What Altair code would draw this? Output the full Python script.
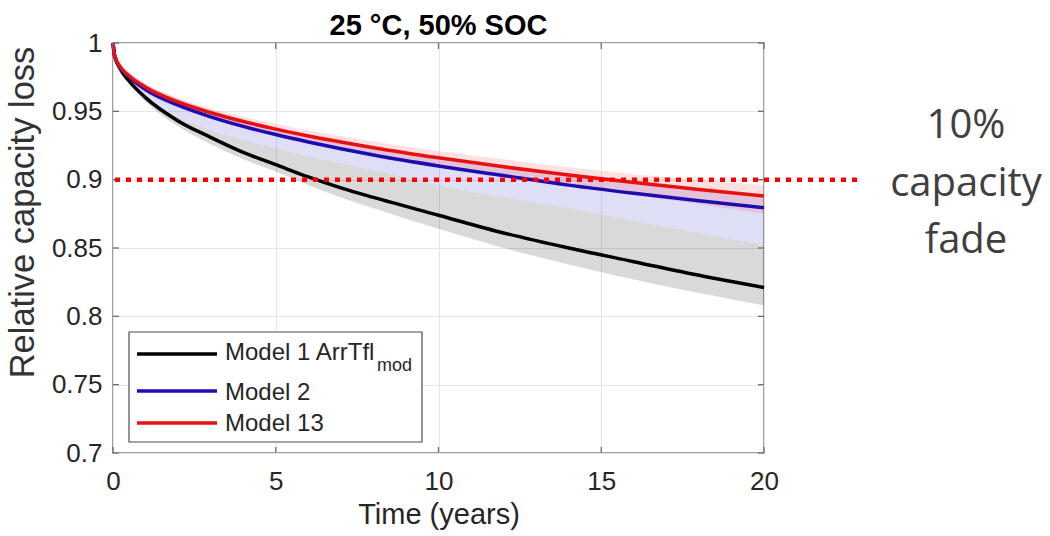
import altair as alt
import pandas as pd

# Time grid (years)
t = [0, 0.05, 0.25, 0.5, 1, 2, 3, 4, 5, 6, 7, 8, 10, 12, 14, 16, 18, 20]

# Central estimates of relative capacity for each model
model1 = [1.000, 0.991, 0.980, 0.972, 0.960, 0.943, 0.931, 0.920, 0.911, 0.902,
          0.894, 0.887, 0.874, 0.861, 0.850, 0.840, 0.830, 0.821]
model2 = [1.000, 0.9905, 0.981, 0.975, 0.966, 0.9545, 0.946, 0.939, 0.933, 0.9276,
          0.9226, 0.918, 0.910, 0.903, 0.896, 0.890, 0.8845, 0.8795]
model13 = [1.000, 0.9907, 0.9818, 0.9758, 0.9677, 0.9569, 0.949, 0.9426, 0.937, 0.932,
           0.9276, 0.9234, 0.916, 0.9094, 0.9034, 0.898, 0.8928, 0.888]

# Uncertainty bands
model1_lo = [1.000, 0.990, 0.978, 0.970, 0.957, 0.939, 0.926, 0.915, 0.906, 0.896,
             0.887, 0.879, 0.864, 0.850, 0.838, 0.827, 0.817, 0.808]
model1_hi = [1.000, 0.9912, 0.9802, 0.9722, 0.9602, 0.946, 0.936, 0.929, 0.923, 0.917,
             0.912, 0.907, 0.896, 0.887, 0.879, 0.870, 0.861, 0.852]
model2_lo = [1.000, 0.989, 0.978, 0.970, 0.960, 0.946, 0.936, 0.929, 0.923, 0.917,
             0.912, 0.907, 0.896, 0.887, 0.879, 0.870, 0.861, 0.852]
model2_hi = [1.000, 0.992, 0.984, 0.978, 0.970, 0.959, 0.951, 0.944, 0.938, 0.933,
             0.928, 0.924, 0.916, 0.909, 0.903, 0.897, 0.892, 0.887]
model13_lo = [1.000, 0.990, 0.980, 0.973, 0.964, 0.953, 0.945, 0.938, 0.932, 0.927,
              0.922, 0.918, 0.910, 0.903, 0.896, 0.889, 0.882, 0.875]
model13_hi = [1.000, 0.991, 0.983, 0.978, 0.970, 0.960, 0.952, 0.946, 0.941, 0.936,
              0.932, 0.928, 0.921, 0.915, 0.909, 0.904, 0.900, 0.896]

series_names = ["Model 1 ArrTfl", "Model 2", "Model 13"]
series_colors = ["#000000", "#1e0cb0", "#e81010"]
band_colors = ["#000000", "#3a30cc", "#ff0000"]
band_opacity = [0.15, 0.16, 0.12]

x_ticks = [0, 5, 10, 15, 20]
y_ticks = [0.7, 0.75, 0.8, 0.85, 0.9, 0.95, 1.0]
threshold = 0.9
chart_title = "25 °C, 50% SOC"
note_lines = ["10%", "capacity", "fade"]

W, H = 651, 410
FONT = "Liberation Sans"
INK = "#262626"
LW = 3.5

lines_df = pd.concat([
    pd.DataFrame({"t": t, "v": vals, "series": name})
    for name, vals in zip(series_names, [model1, model2, model13])
])
bands = [(model1_lo, model1_hi), (model2_lo, model2_hi), (model13_lo, model13_hi)]

x_scale = alt.Scale(domain=[0, 20], nice=False)
y_scale = alt.Scale(domain=[0.7, 1.0], nice=False, zero=False)

x_axis = alt.Axis(
    values=x_ticks, title="Time (years)", labelPadding=15, titlePadding=6,
    titleFontSize=29, titleFontWeight="normal", labelFlush=False)
y_axis = alt.Axis(
    values=y_ticks, format=".2~f", title="Relative capacity loss",
    labelPadding=11, titleFontSize=34.5, titleFontWeight="normal", titleColor="#333333",
    titleBaseline="middle", titleX=-90, titleY=169, titleAngle=-90, labelFlush=False)


def X(field):
    return alt.X(field, scale=x_scale, axis=x_axis)


def Y(field):
    return alt.Y(field, scale=y_scale, axis=y_axis)


layers = []

# Shaded uncertainty bands
for (lo, hi), c, op in zip(bands, band_colors, band_opacity):
    bdf = pd.DataFrame({"t": t, "lo": lo, "hi": hi})
    layers.append(alt.Chart(bdf).mark_area(
        interpolate="monotone", color=c, opacity=op
    ).encode(x=X("t:Q"), y=Y("lo:Q"), y2="hi:Q"))

# Model curves
layers.append(alt.Chart(lines_df).mark_line(
    interpolate="monotone", strokeWidth=LW
).encode(
    x=X("t:Q"), y=Y("v:Q"),
    color=alt.Color("series:N", scale=alt.Scale(domain=series_names, range=series_colors), legend=None),
    detail="series:N",
))

# Inward tick marks on all four sides
xt = pd.DataFrame({"t": x_ticks})
yt = pd.DataFrame({"v": y_ticks})
tick_style = dict(color="#6e6e6e", strokeWidth=1.3)
layers.append(alt.Chart(xt).mark_rule(**tick_style).encode(
    x=X("t:Q"), y=alt.value(H), y2=alt.value(H - 6)))
layers.append(alt.Chart(xt).mark_rule(**tick_style).encode(
    x=X("t:Q"), y=alt.value(0), y2=alt.value(6)))
layers.append(alt.Chart(yt).mark_rule(**tick_style).encode(
    y=Y("v:Q"), x=alt.value(0), x2=alt.value(6)))
layers.append(alt.Chart(yt).mark_rule(**tick_style).encode(
    y=Y("v:Q"), x=alt.value(W), x2=alt.value(W - 6)))

# 10% fade threshold, running past the right edge of the axes
one = pd.DataFrame({"k": [0]})
layers.append(alt.Chart(one).mark_rule(
    color="#ff0000", strokeWidth=4.5, strokeDash=[5, 6], clip=False
).encode(y=alt.datum(threshold), x=alt.value(2), x2=alt.value(744)))

# Panel title above the axes
layers.append(alt.Chart(one).mark_text(
    font=FONT, fontSize=29, fontWeight="bold", color="#000000", align="center",
    baseline="alphabetic", text=chart_title
).encode(x=alt.value(W / 2), y=alt.value(-8)))

# Annotation to the right
note_top, note_step = 95, 57.5
for i, line in enumerate(note_lines):
    layers.append(alt.Chart(one).mark_text(
        font="Open Sans", fontSize=40, color="#404040", align="center",
        baseline="alphabetic", text=line
    ).encode(x=alt.value(853), y=alt.value(note_top + i * note_step)))

# Legend box
lx0, lx1, ly0, ly1 = 16, 309, 289, 399
layers.append(alt.Chart(one).mark_rect(
    fill="white", stroke="#4d4d4d", strokeWidth=1.2
).encode(x=alt.value(lx0), x2=alt.value(lx1), y=alt.value(ly0), y2=alt.value(ly1)))

row_line_y = [311, 348, 380]
row_text_y = [317, 357, 388]
for name, c, ly, ty in zip(series_names, series_colors, row_line_y, row_text_y):
    layers.append(alt.Chart(one).mark_rule(color=c, strokeWidth=LW).encode(
        x=alt.value(24), x2=alt.value(104), y=alt.value(ly)))
    layers.append(alt.Chart(one).mark_text(
        font=FONT, fontSize=24, color=INK, align="left", baseline="alphabetic", text=name
    ).encode(x=alt.value(112), y=alt.value(ty)))
layers.append(alt.Chart(one).mark_text(
    font=FONT, fontSize=18, color=INK, align="left", baseline="alphabetic", text="mod"
).encode(x=alt.value(264), y=alt.value(328)))

chart = alt.layer(*layers).properties(
    width=W, height=H,
    padding={"left": 113, "top": 43, "right": 286, "bottom": 83},
    autosize=alt.AutoSizeParams(type="none"),
).configure_view(
    stroke="#808080", strokeWidth=1.5
).configure_axis(
    domain=False, ticks=False, grid=True, gridColor="#e6e6e6", gridWidth=1,
    labelFont=FONT, labelFontSize=26, labelColor=INK,
    titleFont=FONT, titleColor=INK,
)

chart.save("out.html", embed_options={"renderer": "svg", "actions": False})
